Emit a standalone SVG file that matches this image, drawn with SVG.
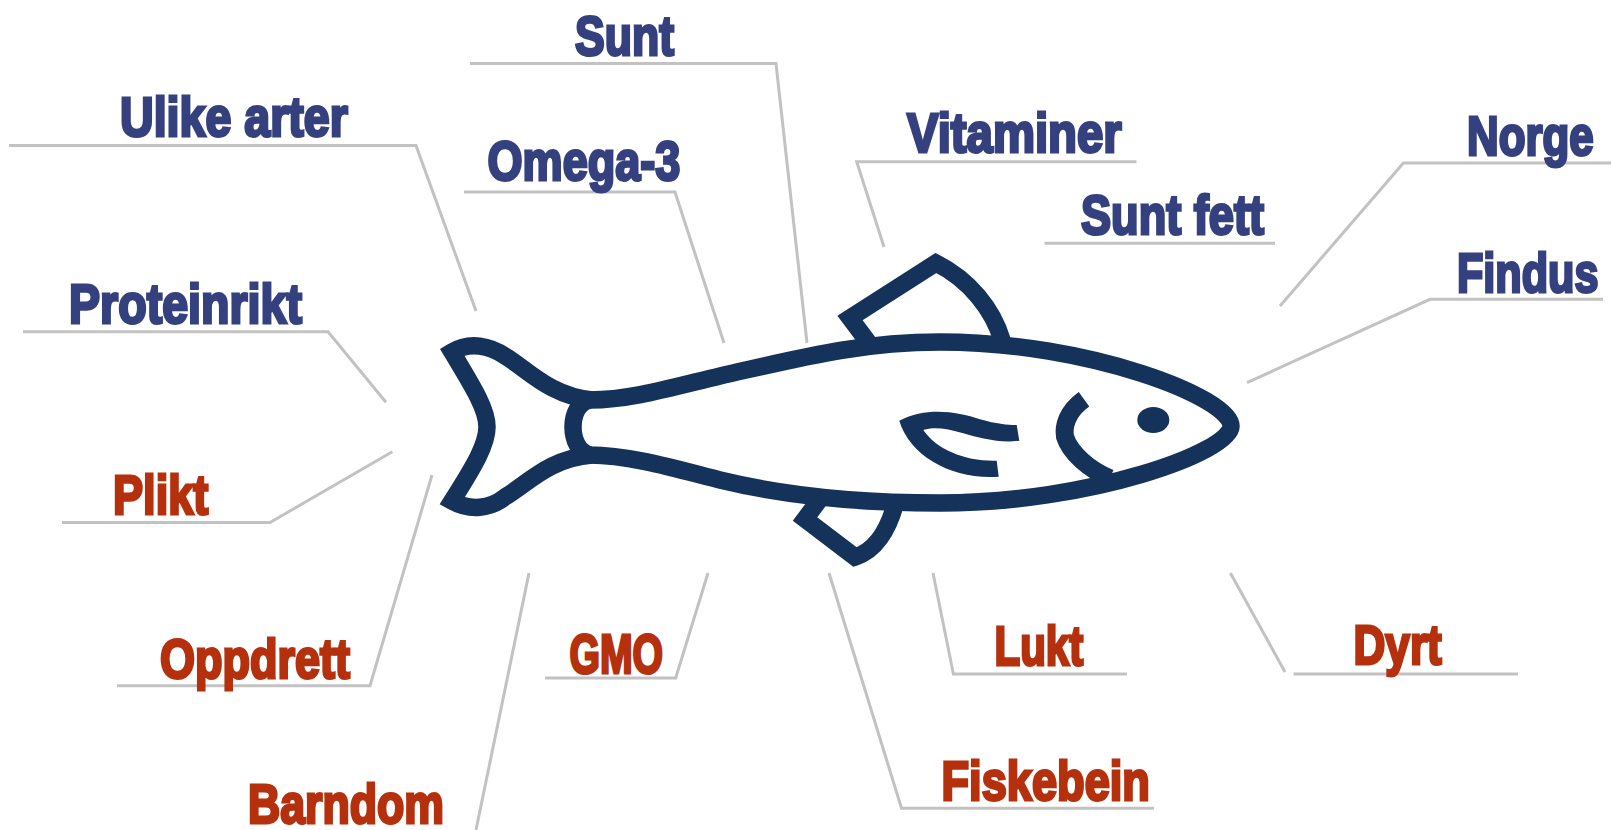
<svg xmlns="http://www.w3.org/2000/svg" width="1611" height="830" viewBox="0 0 1611 830">
<style>
.c{fill:none;stroke:#c2c2c2;stroke-width:3}
.t{font-family:"Liberation Sans",Arial,sans-serif;font-weight:700;font-size:56px;stroke-width:3;stroke-linejoin:miter}
.b{fill:#35407f;stroke:#35407f}
.r{fill:#b5300d;stroke:#b5300d}
.f{fill:#14325a}
.s{fill:none;stroke:#14325a;stroke-width:17.500;stroke-miterlimit:6}
</style>
<rect width="1611" height="830" fill="#fff"/>
<g id="connectors">
<path class="c" d="M470 63.500H776L807 343"/>
<path class="c" d="M464 192H675L724 343"/>
<path class="c" d="M9 145.500H416L476 311"/>
<path class="c" d="M23 331.700H328L386 402.300"/>
<path class="c" d="M62 522.500H270L392.300 451.700"/>
<path class="c" d="M117 685.700H370L432 475"/>
<path class="c" d="M476 830L529 573"/>
<path class="c" d="M545 678H675.700L708 573"/>
<path class="c" d="M829 573L901.500 808.300H1154"/>
<path class="c" d="M933 573L953.400 674H1127"/>
<path class="c" d="M1230.400 573L1285 672"/>
<path class="c" d="M1293.600 674H1518"/>
<path class="c" d="M884 247L856.700 161.700H1136.500"/>
<path class="c" d="M1044.500 243.300H1275"/>
<path class="c" d="M1280 306L1403.400 163H1611"/>
<path class="c" d="M1247 382.700L1430 299.300H1603"/>
</g>
<g id="fish">
<path class="s" d="M1231 426C1231 398 1090 342 940 342C860 342 800 358 720 376C670 388 630 400 590 400C578 402 573 415 573 427C573 439 578 452 590 455C630 455 680 470 720 480C790 497 870 503 940 503C1090 503 1231 452 1231 426Z"/>
<path class="s" d="M592 400C550 396 527 369 505 356C490 346 470 341 452 352C475 390 487 410 487 427C487 444 475 465 452 501C470 511 490 509 505 497C527 484 550 458 592 455"/>
<path class="s" d="M868 342L850 318L936 263C970 280 993 310 1002 340"/>
<path class="s" d="M823 495L805 519L855 557C875 551 888 530 895 505"/>
<path class="f" d="M899.300 420.700C926.700 406.700 956.700 411.700 980 419.300C996.700 424 1006.700 425 1016.700 425L1019.300 440.700C1000 443.300 980 438.300 963.300 433.300C946.700 428.300 933.300 426.700 923.300 430C936.700 450 966.700 461.700 996.700 460.700L998.700 476.700C953.300 480 910 456.700 899.300 420.700Z"/>
<path fill="none" stroke="#14325a" stroke-width="18" d="M1084 399.300C1066.700 411.700 1063.300 426.700 1065 436.700C1070 453.300 1090 470 1110 478.300"/>
<ellipse class="f" cx="1153.300" cy="420" rx="16" ry="13"/>
</g>
<g id="n-sunt"><text class="t b" transform="translate(575 55) scale(.796 1)">Sunt</text></g>
<g id="n-ulike"><text class="t b" transform="translate(120 136) scale(.832 1)">Ulike arter</text></g>
<g id="n-omega"><text class="t b" transform="translate(487.500 180) scale(.805 1)">Omega-3</text></g>
<g id="n-protein"><text class="t b" transform="translate(69 323) scale(.832 1)">Proteinrikt</text></g>
<g id="n-vitaminer"><text class="t b" transform="translate(907 152) scale(.845 1)">Vitaminer</text></g>
<g id="n-suntfett"><text class="t b" transform="translate(1081 234) scale(.806 1)">Sunt fett</text></g>
<g id="n-norge"><text class="t b" transform="translate(1467 155) scale(.783 1)">Norge</text></g>
<g id="n-findus"><text class="t b" transform="translate(1457 292) scale(.771 1)">Findus</text></g>
<g id="n-plikt"><text class="t r" transform="translate(113 514) scale(.806 1)">Plikt</text></g>
<g id="n-oppdrett"><text class="t r" transform="translate(160 678) scale(.804 1)">Oppdrett</text></g>
<g id="n-gmo"><text class="t r" transform="translate(569.500 673) scale(.699 1)">GMO</text></g>
<g id="n-barndom"><text class="t r" transform="translate(248 823) scale(.797 1)">Barndom</text></g>
<g id="n-fiskebein"><text class="t r" transform="translate(941.500 800) scale(.807 1)">Fiskebein</text></g>
<g id="n-lukt"><text class="t r" transform="translate(994.500 664.500) scale(.751 1)">Lukt</text></g>
<g id="n-dyrt"><text class="t r" transform="translate(1353.500 663.500) scale(.788 1)">Dyrt</text></g>
</svg>
